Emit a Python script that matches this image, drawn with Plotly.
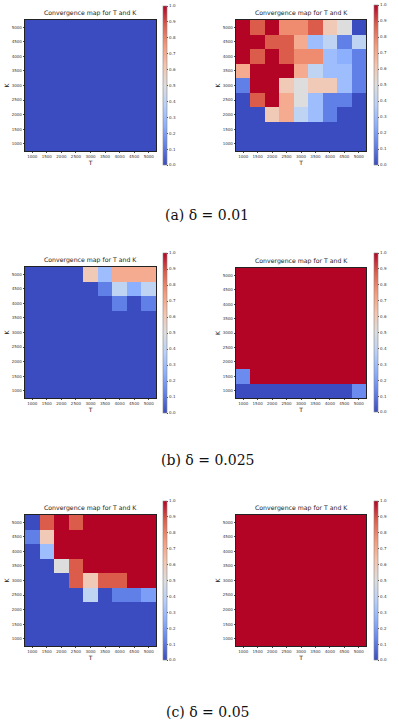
import plotly.graph_objects as go

W, H = 398, 726

T_values = [1000, 1500, 2000, 2500, 3000, 3500, 4000, 4500, 5000]
K_values = [1000, 1500, 2000, 2500, 3000, 3500, 4000, 4500, 5000]
tick_labels = [str(v) for v in T_values]
cbar_ticks = [0.0, 0.1, 0.2, 0.3, 0.4, 0.5, 0.6, 0.7, 0.8, 0.9, 1.0]

# rows listed from K=5000 (top) down to K=1000
zeros = [0.0] * 9
ones = [1.0] * 9

conv_001_a = [zeros[:] for _ in range(9)]
conv_001_b = [
    [1.0, 0.88, 1.0, 0.78, 0.78, 0.88, 0.6, 0.5, 0.0],
    [1.0, 1.0, 0.88, 0.88, 0.7, 0.3, 0.4, 0.12, 0.4],
    [1.0, 0.88, 1.0, 0.88, 0.78, 0.78, 0.3, 0.25, 0.12],
    [0.7, 1.0, 1.0, 1.0, 0.7, 0.4, 0.3, 0.3, 0.12],
    [0.12, 1.0, 1.0, 0.6, 0.5, 0.6, 0.6, 0.3, 0.12],
    [0.0, 0.88, 1.0, 0.7, 0.5, 0.3, 0.12, 0.12, 0.0],
    [0.0, 0.0, 0.6, 0.7, 0.4, 0.3, 0.12, 0.0, 0.0],
    zeros, zeros,
]
conv_0025_a = [
    [0.0, 0.0, 0.0, 0.0, 0.6, 0.3, 0.7, 0.7, 0.7],
    [0.0, 0.0, 0.0, 0.0, 0.0, 0.12, 0.4, 0.25, 0.4],
    [0.0, 0.0, 0.0, 0.0, 0.0, 0.0, 0.12, 0.0, 0.12],
    zeros, zeros, zeros, zeros, zeros, zeros,
]
conv_0025_b = [
    ones, ones, ones, ones, ones, ones, ones,
    [0.15, 1.0, 1.0, 1.0, 1.0, 1.0, 1.0, 1.0, 1.0],
    [0.0, 0.0, 0.0, 0.0, 0.0, 0.0, 0.0, 0.0, 0.15],
]
conv_005_a = [
    [0.0, 0.88, 1.0, 0.88, 1.0, 1.0, 1.0, 1.0, 1.0],
    [0.12, 0.6, 1.0, 1.0, 1.0, 1.0, 1.0, 1.0, 1.0],
    [0.0, 0.3, 1.0, 1.0, 1.0, 1.0, 1.0, 1.0, 1.0],
    [0.0, 0.0, 0.5, 0.88, 1.0, 1.0, 1.0, 1.0, 1.0],
    [0.0, 0.0, 0.0, 0.88, 0.6, 0.88, 0.88, 1.0, 1.0],
    [0.0, 0.0, 0.0, 0.0, 0.4, 0.0, 0.12, 0.12, 0.2],
    zeros, zeros, zeros,
]
conv_005_b = [ones[:] for _ in range(9)]

captions = ["(a) δ = 0.01", "(b) δ = 0.025", "(c) δ = 0.05"]

coolwarm = [
    [0.0, "#3b4cc0"], [0.125, "#6282ea"], [0.25, "#8db0fe"],
    [0.375, "#b8d0f9"], [0.5, "#dddddd"], [0.625, "#f5c4ad"],
    [0.75, "#f49a7b"], [0.875, "#de604d"], [1.0, "#b40426"],
]

# (plot x0, x1, y0, y1, colorbar x, colorbar y0, y1) in pixels
panels = [
    (conv_001_a, 25, 156, 20, 151, 163, 6, 165),
    (conv_001_b, 236, 366, 20, 151, 374, 5, 165),
    (conv_0025_a, 25, 156, 267, 398, 163, 253, 413),
    (conv_0025_b, 236, 366, 268, 398, 374, 253, 412),
    (conv_005_a, 25, 156, 515, 646, 163, 501, 660),
    (conv_005_b, 236, 366, 515, 646, 374, 501, 660),
]

fig = go.Figure()
layout = {}
annotations = []
small = dict(family="DejaVu Sans", size=4, color="#333")

for i, (z, x0, x1, y0, y1, cx, cy0, cy1) in enumerate(panels, start=1):
    suffix = "" if i == 1 else str(i)
    rows = z[::-1]
    fig.add_trace(go.Heatmap(
        x=T_values, y=K_values, z=rows,
        xaxis="x" + suffix, yaxis="y" + suffix,
        colorscale=coolwarm, zmin=0, zmax=1,
        colorbar=dict(
            x=cx / W, xanchor="left", xpad=0,
            y=1 - cy1 / H, yanchor="bottom", ypad=0,
            len=(cy1 - cy0), lenmode="pixels",
            thickness=4, thicknessmode="pixels",
            outlinewidth=0.6, outlinecolor="#888",
            tickvals=cbar_ticks, ticktext=[f"{v:.1f}" for v in cbar_ticks],
            ticks="outside", ticklen=1.5, tickwidth=0.5, tickcolor="#444",
            tickfont=small,
        ),
    ))
    layout["xaxis" + suffix] = dict(
        domain=[x0 / W, x1 / W], anchor="y" + suffix,
        range=[750, 5250], tickvals=T_values, ticktext=tick_labels,
        tickfont=small, ticks="outside", ticklen=1.5, tickwidth=0.5,
        tickcolor="#444", showgrid=False, zeroline=False,
        showline=True, linecolor="#222", linewidth=0.6, mirror=True,
        title=dict(text="T", font=dict(family="DejaVu Sans", size=6, color="#222"), standoff=1),
    )
    layout["yaxis" + suffix] = dict(
        domain=[1 - y1 / H, 1 - y0 / H], anchor="x" + suffix,
        range=[750, 5250], tickvals=K_values, ticktext=tick_labels,
        tickfont=small, ticks="outside", ticklen=1.5, tickwidth=0.5,
        tickcolor="#444", showgrid=False, zeroline=False,
        showline=True, linecolor="#222", linewidth=0.6, mirror=True,
        title=dict(text="K", font=dict(family="DejaVu Sans", size=6, color="#222"), standoff=1),
    )
    annotations.append(dict(
        text="Convergence map for T and K", xref="paper", yref="paper",
        x=(x0 + x1) / 2 / W, y=1 - (y0 - 1) / H, xanchor="center", yanchor="bottom",
        showarrow=False, font=dict(family="DejaVu Sans", size=6.2, color="#222"),
    ))

for text, cy in zip(captions, [215, 460, 712]):
    annotations.append(dict(
        text=text, xref="paper", yref="paper", x=207 / W, y=1 - cy / H,
        xanchor="center", yanchor="middle", showarrow=False,
        font=dict(family="DejaVu Serif", size=14, color="#111"),
    ))

fig.update_layout(
    width=W, height=H, margin=dict(l=0, r=0, t=0, b=0),
    paper_bgcolor="white", plot_bgcolor="white",
    annotations=annotations, **layout,
)

fig.write_html("out.html", config={"displayModeBar": False},
               post_script="document.body.style.margin='0px';")
